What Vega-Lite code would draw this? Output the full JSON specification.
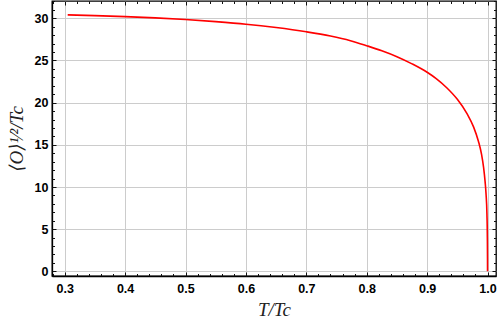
{
  "$schema": "https://vega.github.io/schema/vega-lite/v6.json",
  "autosize": {"type": "none"},
  "padding": {"left": 52, "top": 1, "right": 1, "bottom": 50},
  "width": 444,
  "height": 275,
  "background": "white",
  "config": {
    "view": {"stroke": "black", "strokeWidth": 1.3},
    "axis": {
      "domainColor": "black",
      "domainWidth": 1.3,
      "tickColor": "#111111",
      "tickWidth": 1,
      "labelFont": "Liberation Sans",
      "labelFontWeight": "bold",
      "labelFontSize": 12.5,
      "labelColor": "black",
      "gridColor": "#cccccc",
      "gridWidth": 1
    }
  },
  "data": {
    "values": [
      {"t": 0.305, "o": 30.41},
      {"t": 0.35, "o": 30.32},
      {"t": 0.4, "o": 30.2},
      {"t": 0.45, "o": 30.05},
      {"t": 0.5, "o": 29.85},
      {"t": 0.55, "o": 29.6},
      {"t": 0.6, "o": 29.3},
      {"t": 0.65, "o": 28.9},
      {"t": 0.7, "o": 28.4},
      {"t": 0.74, "o": 27.9},
      {"t": 0.773, "o": 27.35},
      {"t": 0.8, "o": 26.75},
      {"t": 0.825, "o": 26.15},
      {"t": 0.85, "o": 25.45},
      {"t": 0.875, "o": 24.6},
      {"t": 0.9, "o": 23.6},
      {"t": 0.915, "o": 22.85},
      {"t": 0.932, "o": 21.8},
      {"t": 0.95, "o": 20.4},
      {"t": 0.966, "o": 18.7},
      {"t": 0.977, "o": 17.1},
      {"t": 0.985, "o": 15.4},
      {"t": 0.99, "o": 13.9},
      {"t": 0.9935, "o": 12.3},
      {"t": 0.996, "o": 10.6},
      {"t": 0.9975, "o": 9.2},
      {"t": 0.999, "o": 6.8},
      {"t": 0.9997, "o": 4.0},
      {"t": 0.99995, "o": 1.5},
      {"t": 1.0, "o": 0.0}
    ]
  },
  "layer": [
    {
      "mark": {"type": "line", "color": "#ff0000", "strokeWidth": 1.6, "clip": true, "interpolate": "monotone"},
      "encoding": {
        "x": {
          "field": "t", "type": "quantitative",
          "scale": {"domain": [0.279, 1.014], "nice": false, "zero": false},
          "axis": {
            "orient": "bottom",
            "values": [0.3,0.4,0.5,0.6,0.7,0.8,0.9,1.0],
            "format": ".1f",
            "ticks": false,
            "labelPadding": 6,
            "grid": true,
            "title": "T/Tc",
            "titleFont": "Liberation Serif",
            "titleFontStyle": "italic",
            "titleFontWeight": "normal",
            "titleFontSize": 19,
            "titleColor": "#222222",
            "titlePadding": 6
          }
        },
        "y": {
          "field": "o", "type": "quantitative",
          "scale": {"domain": [-0.55, 32.05], "nice": false, "zero": false},
          "axis": {
            "orient": "left",
            "values": [0,5,10,15,20,25,30],
            "ticks": false,
            "labelPadding": 4,
            "grid": true,
            "title": "⟨O⟩¹⁄²/Tc",
            "titleFont": "Liberation Serif, DejaVu Serif",
            "titleFontStyle": "italic",
            "titleFontWeight": "normal",
            "titleFontSize": 19,
            "titleColor": "#222222",
            "titlePadding": 8
          }
        }
      }
    },
    {
      "mark": {"type": "line", "opacity": 0},
      "encoding": {
        "x": {
          "field": "t", "type": "quantitative",
          "axis": {"orient": "bottom", "values": [0.3,0.4,0.5,0.6,0.7,0.8,0.9,1.0], "labels": false, "grid": false, "domain": false, "title": null, "tickSize": 4, "offset": -4}
        },
        "y": {
          "field": "o", "type": "quantitative",
          "axis": {"orient": "left", "values": [0,5,10,15,20,25,30], "labels": false, "grid": false, "domain": false, "title": null, "tickSize": 4, "offset": -4}
        }
      }
    },
    {
      "mark": {"type": "line", "opacity": 0},
      "encoding": {
        "x": {
          "field": "t", "type": "quantitative",
          "axis": {"orient": "bottom", "values": [0.28,0.32,0.34,0.36,0.38,0.42,0.44,0.46,0.48,0.52,0.54,0.56,0.58,0.62,0.64,0.66,0.68,0.72,0.74,0.76,0.78,0.82,0.84,0.86,0.88,0.92,0.94,0.96,0.98], "labels": false, "grid": false, "domain": false, "title": null, "tickSize": 2.5, "offset": -2.5}
        },
        "y": {
          "field": "o", "type": "quantitative",
          "axis": {"orient": "left", "values": [1,2,3,4,6,7,8,9,11,12,13,14,16,17,18,19,21,22,23,24,26,27,28,29,31,32], "labels": false, "grid": false, "domain": false, "title": null, "tickSize": 2.5, "offset": -2.5}
        }
      }
    },
    {
      "mark": {"type": "line", "opacity": 0},
      "encoding": {
        "x": {
          "field": "t", "type": "quantitative",
          "axis": {"orient": "top", "values": [0.3,0.4,0.5,0.6,0.7,0.8,0.9,1.0], "labels": false, "grid": false, "domain": false, "title": null, "tickSize": 4, "offset": -4}
        },
        "y": {
          "field": "o", "type": "quantitative",
          "axis": {"orient": "right", "values": [0,5,10,15,20,25,30], "labels": false, "grid": false, "domain": false, "title": null, "tickSize": 4, "offset": -4}
        }
      }
    },
    {
      "mark": {"type": "line", "opacity": 0},
      "encoding": {
        "x": {
          "field": "t", "type": "quantitative",
          "axis": {"orient": "top", "values": [0.28,0.32,0.34,0.36,0.38,0.42,0.44,0.46,0.48,0.52,0.54,0.56,0.58,0.62,0.64,0.66,0.68,0.72,0.74,0.76,0.78,0.82,0.84,0.86,0.88,0.92,0.94,0.96,0.98], "labels": false, "grid": false, "domain": false, "title": null, "tickSize": 2.5, "offset": -2.5}
        },
        "y": {
          "field": "o", "type": "quantitative",
          "axis": {"orient": "right", "values": [1,2,3,4,6,7,8,9,11,12,13,14,16,17,18,19,21,22,23,24,26,27,28,29,31,32], "labels": false, "grid": false, "domain": false, "title": null, "tickSize": 2.5, "offset": -2.5}
        }
      }
    }
  ],
  "resolve": {"axis": {"x": "independent", "y": "independent"}}
}
